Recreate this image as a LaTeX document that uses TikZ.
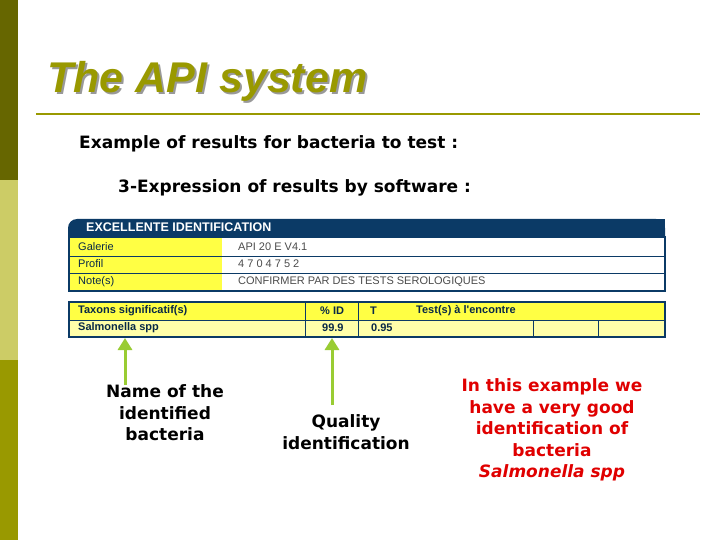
\documentclass[tikz,border=0pt]{standalone}
\usepackage{fontspec}
\setmainfont{DejaVu Sans}
\newfontfamily\arialf{Liberation Sans}
\usetikzlibrary{arrows.meta}
\definecolor{olivedark}{HTML}{666600}
\definecolor{olivelight}{HTML}{CCCC66}
\definecolor{olivemid}{HTML}{999900}
\definecolor{navy}{HTML}{0B3A66}
\definecolor{ylw}{HTML}{FFFF44}
\definecolor{lylw}{HTML}{FFFFAA}
\definecolor{grn}{HTML}{99CC33}
\definecolor{redt}{HTML}{E00000}
\tikzset{
 tbl/.style={font=\arialf\fontsize{11}{12}\selectfont, anchor=west, inner sep=0pt, text=navy!70!black},
 tblb/.style={tbl, font=\arialf\bfseries\fontsize{11}{12}\selectfont},
 body/.style={font=\bfseries\fontsize{17}{21.5}\selectfont, align=center, inner sep=0pt},
 arr/.style={draw=grn, line width=3pt, -{Triangle[length=12pt,width=14pt]}}
}
\begin{document}
\begin{tikzpicture}[x=1pt,y=-1pt]
\useasboundingbox (0,0) rectangle (720,540);
\fill[white] (0,0) rectangle (720,540);
\fill[olivedark] (0,0) rectangle (18,180);
\fill[olivelight] (0,180) rectangle (18,360);
\fill[olivemid] (0,360) rectangle (18,540);
% title
\node[anchor=west, inner sep=0pt, text=black!40, font=\arialf\bfseries\itshape\fontsize{43}{46}\selectfont] (tsh) at (49,83) {The API system};
\node[anchor=west, inner sep=0pt, text=olivemid, font=\arialf\bfseries\itshape\fontsize{43}{46}\selectfont] (title) at (47,81) {The API system};
\draw[olivemid, line width=2pt] (36,114) -- (700,114);
\node[anchor=west, inner sep=0pt, font=\bfseries\fontsize{17}{20}\selectfont] (l1) at (79,144) {Example of results for bacteria to test :};
\node[anchor=west, inner sep=0pt, font=\bfseries\fontsize{17}{20}\selectfont] (l2) at (118,188) {3-Expression of results by software :};
% table 1
\fill[navy, rounded corners=9pt] (68,236) -- (68,219) -- (665,219) [sharp corners] -- (665,236) -- cycle;
\fill[navy] (100,219) rectangle (665,236);
\node[anchor=west, inner sep=0pt, text=white, font=\arialf\bfseries\fontsize{12.5}{14}\selectfont] (hdr) at (86,227) {EXCELLENTE IDENTIFICATION};
\fill[ylw] (70,238) rectangle (222,291);
\draw[navy, line width=1.5pt] (69,237) rectangle (665,291);
\draw[navy, line width=0.7pt] (69,256) -- (665,256) (69,273) -- (665,273);
\node[tbl] (g1) at (78,247) {Galerie};
\node[tbl] (g2) at (78,264) {Profil};
\node[tbl] (g3) at (78,282) {Note(s)};
\node[tbl, text=black!70] (v1) at (238,247) {API 20 E V4.1};
\node[tbl, text=black!70] (v2) at (238,264) {4 7 0 4 7 5 2};
\node[tbl, text=black!70] (v3) at (238,282) {CONFIRMER PAR DES TESTS SEROLOGIQUES};
% table 2
\fill[ylw] (69,302) rectangle (665,320);
\fill[lylw] (69,320) rectangle (665,337);
\draw[navy, line width=1.5pt] (69,302) rectangle (665,337);
\draw[navy, line width=0.7pt] (69,320) -- (665,320) (305,302) -- (305,337) (358,302) -- (358,337) (533,320) -- (533,337) (598,320) -- (598,337);
\node[tblb] (h1) at (78,311) {Taxons significatif(s)};
\node[tblb] (h2) at (320,311) {\% ID};
\node[tblb] (h3) at (370,311) {T};
\node[tblb] (h4) at (416,311) {Test(s) à l'encontre};
\node[tblb] (salm) at (78,328) {Salmonella spp};
\node[tblb] (pid) at (322,328) {99.9};
\node[tblb] (tv) at (371,328) {0.95};
\coordinate (a1) at (125,338);
\coordinate (a2) at (332,338);
\coordinate (b1) at (125,385);
\coordinate (b2) at (332,405);
% labels
\node[body] (n1) at (165,413) {Name of the\\identified\\bacteria};
\node[body] (n2) at (346,432) {Quality\\identification};
\node[body, text=redt] (n3) at (552,430) {In this example we\\have a very good\\identification of\\bacteria\\\itshape Salmonella spp};
\draw[arr] (b1) -- (a1);
\draw[arr] (b2) -- (a2);
\end{tikzpicture}
\end{document}
